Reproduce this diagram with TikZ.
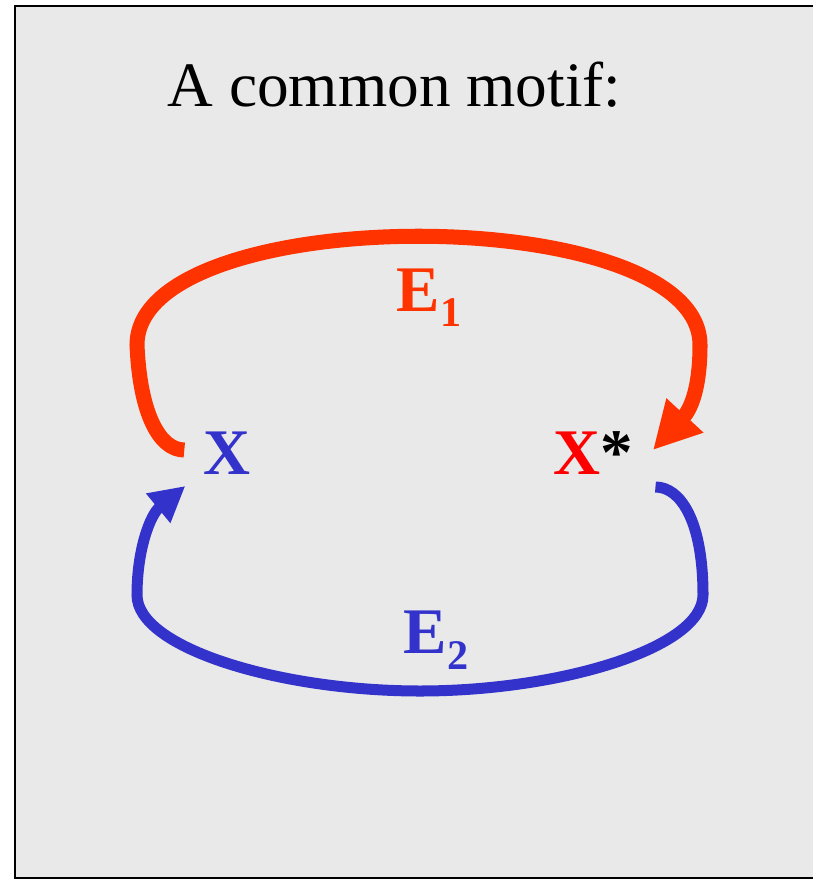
\documentclass[tikz,border=0pt]{standalone}
\usepackage{fontspec}
\setmainfont{Liberation Serif}
\usepackage{tikz}
\usetikzlibrary{arrows.meta,calc}
\usepackage{xcolor}
\definecolor{panel}{RGB}{233,233,233}
\definecolor{hotred}{RGB}{255,51,0}
\definecolor{motifblue}{RGB}{51,51,204}

\begin{document}
\begin{tikzpicture}[
  x=0.01cm,y=-0.01cm,
  every node/.style={inner sep=0pt,font=\fontsize{18.5}{20}\selectfont\bfseries},
  loopone/.style={-{Triangle[length=13.4pt,width=13.4pt]},line width=4.27pt,hotred},
  looptwo/.style={-{Triangle[length=10pt,width=10.2pt]},line width=3.13pt,motifblue},
  lbl/.style={anchor=base west}
]
\useasboundingbox (0,0) rectangle (813,882);
% grey panel, right side runs off the page
\fill[panel] (15,6) rectangle (830,878);
\draw[line width=0.57pt] (830,6) -- (15,6) -- (15,878) -- (830,878);
% title
\node[lbl,font=\fontsize{18}{20}\selectfont] (title) at (167,107) {A common motif:};
% the two states
\node[motifblue] (x) at (227,453) {X};
\node (xs) at (593,453) {\textcolor{red}{X}*};
% E1: X -> X*
\draw[loopone] ([shift={(-18.5,-3)}]x.west)
  .. controls (160,450) and (140,415) .. (137,345)
  .. controls (137,200) and (700,200) .. (700,345)
  .. controls (700,390) and (690,410) .. ([shift={(19.5,-3)}]xs.east);
% E2: X* -> X
\draw[looptwo] ([shift={(22,34)}]xs.east)
  .. controls (680,487) and (703,520) .. (703,595)
  .. controls (703,648) and (560,691) .. (420,691)
  .. controls (280,691) and (137,648) .. (137,595)
  .. controls (137,550) and (150,515) .. ([shift={(-17.5,33)}]x.west);
% edge labels
\node[lbl,hotred] (e1) at (396,311) {E\raisebox{-4.3pt}{\fontsize{12}{12}\selectfont 1}};
\node[lbl,motifblue] (e2) at (403,653) {E\raisebox{-4.8pt}{\fontsize{12}{12}\selectfont 2}};
\end{tikzpicture}
\end{document}
